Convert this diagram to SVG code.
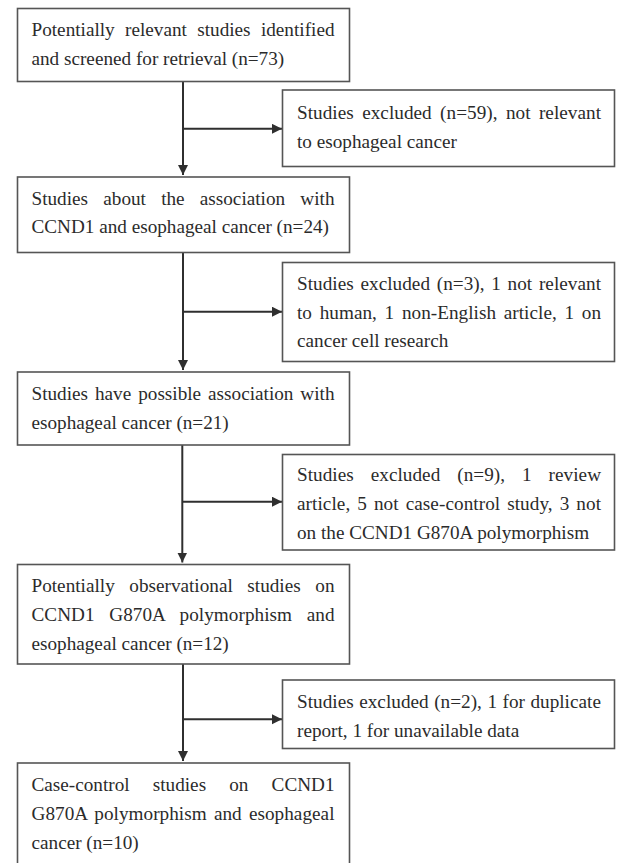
<svg xmlns="http://www.w3.org/2000/svg" width="617" height="863" viewBox="0 0 617 863">
<style>
.box{fill:#fff;stroke:#555;stroke-width:1.6}
.t{font-family:"Liberation Serif","Times New Roman",serif;font-size:19.2px;fill:#2b2b2b}
.c{fill:none;stroke:#2f2f2f;stroke-width:2}
</style>
<defs>
<marker id="ah" markerUnits="userSpaceOnUse" markerWidth="11" markerHeight="11" refX="10" refY="5" orient="auto">
<path d="M0,0 L10,5 L0,10 z" fill="#2f2f2f"/>
</marker>
</defs>
<rect width="617" height="863" fill="#fff"/>
<g id="connectors">
<line class="c" x1="183" y1="81.5" x2="183" y2="175" marker-end="url(#ah)"/>
<line class="c" x1="183" y1="128.8" x2="282" y2="128.8" marker-end="url(#ah)"/>
<line class="c" x1="183" y1="252.5" x2="183" y2="370" marker-end="url(#ah)"/>
<line class="c" x1="183" y1="311.7" x2="282" y2="311.7" marker-end="url(#ah)"/>
<line class="c" x1="182.3" y1="445" x2="182.3" y2="562.5" marker-end="url(#ah)"/>
<line class="c" x1="182.3" y1="501.7" x2="282" y2="501.7" marker-end="url(#ah)"/>
<line class="c" x1="183" y1="664" x2="183" y2="761" marker-end="url(#ah)"/>
<line class="c" x1="183" y1="719.3" x2="282" y2="719.3" marker-end="url(#ah)"/>
</g>
<g id="n1">
<rect class="box" x="17.5" y="8.5" width="332" height="73"/>
<text class="t" x="31.5" y="36" word-spacing="5.54" textLength="303" lengthAdjust="spacing">Potentially relevant studies identified</text>
<text class="t" x="31.5" y="64.5">and screened for retrieval (n=73)</text>
</g>
<g id="e1">
<rect class="box" x="282.5" y="90" width="332" height="76.5"/>
<text class="t" x="297" y="119" word-spacing="3.59" textLength="304" lengthAdjust="spacing">Studies excluded (n=59), not relevant</text>
<text class="t" x="297" y="147.5">to esophageal cancer</text>
</g>
<g id="n2">
<rect class="box" x="17.5" y="177" width="332" height="75.5"/>
<text class="t" x="31.5" y="204.5" word-spacing="10.42" textLength="303" lengthAdjust="spacing">Studies about the association with</text>
<text class="t" x="31.5" y="233">CCND1 and esophageal cancer (n=24)</text>
</g>
<g id="e2">
<rect class="box" x="282.5" y="262.5" width="332" height="99"/>
<text class="t" x="297" y="290" word-spacing="1.91" textLength="304" lengthAdjust="spacing">Studies excluded (n=3), 1 not relevant</text>
<text class="t" x="297" y="318.5" word-spacing="2.86" textLength="304" lengthAdjust="spacing">to human, 1 non-English article, 1 on</text>
<text class="t" x="297" y="347">cancer cell research</text>
</g>
<g id="n3">
<rect class="box" x="17.5" y="372" width="332" height="73"/>
<text class="t" x="31.5" y="399.5" word-spacing="2.15" textLength="303" lengthAdjust="spacing">Studies have possible association with</text>
<text class="t" x="31.5" y="428.5">esophageal cancer (n=21)</text>
</g>
<g id="e3">
<rect class="box" x="282.5" y="454.5" width="332" height="95.5"/>
<text class="t" x="297" y="481" word-spacing="12.12" textLength="304" lengthAdjust="spacing">Studies excluded (n=9), 1 review</text>
<text class="t" x="297" y="510" word-spacing="2.15" textLength="304" lengthAdjust="spacing">article, 5 not case-control study, 3 not</text>
<text class="t" x="297" y="539">on the CCND1 G870A polymorphism</text>
</g>
<g id="n4">
<rect class="box" x="17.5" y="564.5" width="332" height="99.5"/>
<text class="t" x="31.5" y="592" word-spacing="9.8" textLength="303" lengthAdjust="spacing">Potentially observational studies on</text>
<text class="t" x="31.5" y="620.5" word-spacing="9.8" textLength="303" lengthAdjust="spacing">CCND1 G870A polymorphism and</text>
<text class="t" x="31.5" y="649.5">esophageal cancer (n=12)</text>
</g>
<g id="e4">
<rect class="box" x="282.5" y="680" width="332" height="68.5"/>
<text class="t" x="297" y="708" word-spacing="0.63" textLength="304" lengthAdjust="spacing">Studies excluded (n=2), 1 for duplicate</text>
<text class="t" x="297" y="737">report, 1 for unavailable data</text>
</g>
<g id="n5">
<rect class="box" x="17.5" y="763" width="332" height="120"/>
<text class="t" x="31.5" y="790.5" word-spacing="18.34" textLength="303" lengthAdjust="spacing">Case-control studies on CCND1</text>
<text class="t" x="31.5" y="819.5" word-spacing="2.34" textLength="303" lengthAdjust="spacing">G870A polymorphism and esophageal</text>
<text class="t" x="31.5" y="848.5">cancer (n=10)</text>
</g>
</svg>
